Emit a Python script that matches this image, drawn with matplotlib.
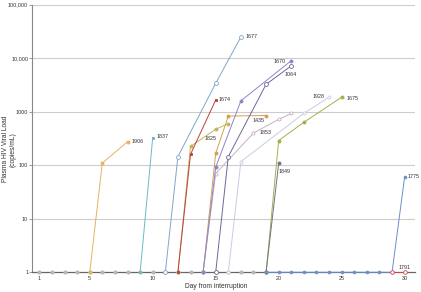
import numpy as np
import matplotlib.pyplot as plt

plt.rcParams['font.family'] = ['Liberation Sans', 'DejaVu Sans']

# baseline (undetectable) measurements
base_days = list(range(1, 20))
base_vals = [1] * len(base_days)

# patient series: id -> (days, viral load)
d1906 = [5, 6, 8];            v1906 = [1, 110, 275]
d1837 = [9, 10];              v1837 = [1, 330]
d1677 = [11, 12, 15, 17];     v1677 = [1, 145, 3400, 25000]
d1674 = [12, 13, 15];         v1674 = [1, 160, 1660]
d1825 = [12, 13, 15, 16];     v1825 = [1, 225, 470, 600]
d1435 = [14, 15, 16, 19];     v1435 = [1, 167, 830, 850]
d1853 = [14, 15, 18, 20, 21]; v1853 = [1, 70, 400, 720, 930]
d1670 = [14, 15, 17, 21];     v1670 = [1, 92, 1600, 9000]
d1064 = [15, 16, 19, 21];     v1064 = [1, 145, 3250, 7200]
d1928 = [16, 17, 22, 24];     v1928 = [1, 117, 935, 1870]
d1675 = [19, 20, 22, 25];     v1675 = [1, 290, 635, 1870]
d1849 = [19, 20];             v1849 = [1, 109]
d1775 = list(range(19, 31)); v1775 = [1] * 11 + [61]
d1791 = [29, 30];             v1791 = [1, 1]

fig = plt.figure(figsize=(4.21, 2.92), dpi=100)
ax = fig.add_axes([0.0767, 0.0675, 0.909, 0.9164])
ax.set_yscale('log')
ax.set_ylim(1, 100000)
ax.set_xlim(0.44, 30.82)

for v in [10, 100, 1000, 10000, 100000]:
    ax.axhline(v, color='#cccccc', lw=0.8, zorder=0)

ax.plot(base_days, base_vals, 'o', color='#b8b8b8', ms=2, clip_on=False, zorder=3)


def series(d, v, color, marker='o', hollow=False, ms=2.2):
    mfc = 'white' if hollow else color
    ax.plot(d, v, color=color, lw=0.7, marker=marker, ms=ms, mfc=mfc,
            mec=color, mew=0.6, clip_on=False, zorder=4)


series(d1906, v1906, '#e3b560')
series(d1837, v1837, '#6cb8c8', marker='s', ms=2)
series(d1677, v1677, '#7fa6c9', hollow=True, ms=2.8)
series(d1825, v1825, '#c2b45a')
series(d1674, v1674, '#b9433c', marker='s', ms=2)
series(d1435, v1435, '#d4a050')
series(d1853, v1853, '#cbaec2', hollow=True)
series(d1928, v1928, '#c9cde2', hollow=True)
series(d1670, v1670, '#8c86c8')
series(d1064, v1064, '#6c6899', hollow=True, ms=2.8)
series(d1675, v1675, '#a5af4f')
series(d1849, v1849, '#6f7585')
series(d1775, v1775, '#6a8fcb', ms=2)
series(d1791, v1791, '#d04848', hollow=True, ms=2.6)

# labels: (text, x, y, dx px, dy px, ha)
labels = [
    ('1906', d1906[-1], v1906[-1], 4, 0, 'left'),
    ('1837', d1837[-1], v1837[-1], 4, 1, 'left'),
    ('1677', d1677[-1], v1677[-1], 5, 0, 'left'),
    ('1674', d1674[-1], v1674[-1], 3, 0, 'left'),
    ('1825', d1825[2], v1825[2], -5, -9, 'center'),
    ('1435', d1435[-1], v1435[-1], -8, -5, 'center'),
    ('1853', d1853[2], v1853[2], 12, 1, 'center'),
    ('1670', d1670[-1], v1670[-1], -12, -1, 'center'),
    ('1064', d1064[-1], v1064[-1], -1, -9, 'center'),
    ('1928', d1928[-1], v1928[-1], -11, 1, 'center'),
    ('1675', d1675[-1], v1675[-1], 5, -1, 'left'),
    ('1849', d1849[-1], v1849[-1], 6, -8, 'center'),
    ('1775', d1775[-1], v1775[-1], 3, 0, 'left'),
    ('1791', d1791[-1], v1791[-1], 0, 5, 'center'),
]
for t, x, y, dx, dy, ha in labels:
    ax.annotate(t, (x, y), xytext=(dx, dy), textcoords='offset pixels',
                ha=ha, va='center', fontsize=3.9, color='#333333',
                annotation_clip=False)

ax.set_yticks([1, 10, 100, 1000, 10000, 100000])
ax.set_yticklabels(['1', '10', '100', '1000', '10,000', '100,000'])
ax.minorticks_off()
ax.set_xticks([1, 5, 10, 15, 20, 25, 30])
ax.tick_params(axis='y', labelsize=3.9, length=2, width=0.6, pad=1,
               color='#888888', labelcolor='#333333')
ax.tick_params(axis='x', labelsize=3.9, length=0, pad=3, labelcolor='#333333')

for s in ['top', 'right']:
    ax.spines[s].set_visible(False)
ax.spines['left'].set_color('#888888')
ax.spines['left'].set_linewidth(0.8)
ax.spines['bottom'].set_color('#666666')
ax.spines['bottom'].set_linewidth(0.9)

ax.set_xlabel('Day from interruption', fontsize=4.8, color='#333333')
ax.xaxis.set_label_coords(0.48, -0.04)
ax.set_ylabel('Plasma HIV Viral Load\n(copies/mL)', fontsize=4.8,
              color='#333333', linespacing=1.1)
ax.yaxis.set_label_coords(-0.04, 0.46)

fig.savefig('out.png', dpi=100)
